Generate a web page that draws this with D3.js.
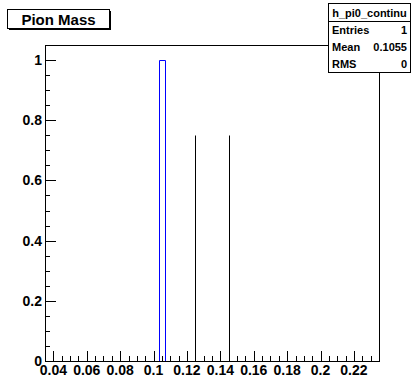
<!DOCTYPE html>
<html lang="en">
<head>
    <title>Pion Mass</title>
    <script src="https://d3js.org/d3.v7.min.js" charset="utf-8"></script>
    <style>
        body { margin: 0; background: #fff; }
        text { font-family: "Liberation Sans", Arial, sans-serif; font-weight: bold; fill: #000; }
    </style>
</head>
<body>
<script>
    // histogram settings and data
    var xDomain = [0.035, 0.235];
    var yDomain = [0, 1.05];
    var nBins = 50;
    var entries = [0.1055];          // filled values
    var cutX = [0.125, 0.145];       // vertical cut lines
    var cutHeight = 0.75;
    var xTickVals = [0.04, 0.06, 0.08, 0.1, 0.12, 0.14, 0.16, 0.18, 0.2, 0.22];
    var yTickVals = [0, 0.2, 0.4, 0.6, 0.8, 1];
    var statNames = ["Entries", "Mean", "RMS"];
    var statValues = ["1", "0.1055", "0"];
    var histName = "h_pi0_continu";
    var title = "Pion Mass";

    var w = 413, h = 378;
    var L = 45, R = 379, T = 45, B = 361;

    var svg = d3.select("body").append("svg")
        .attr("width", w)
        .attr("height", h);

    var x = d3.scaleLinear().domain(xDomain).range([L, R]);
    var y = d3.scaleLinear().domain(yDomain).range([B, T]);

    // bin the entries
    var step = (xDomain[1] - xDomain[0]) / nBins;
    var thresholds = d3.range(1, nBins).map(function(i) { return xDomain[0] + i * step; });
    var bins = d3.bin().domain(xDomain).thresholds(thresholds)(entries);

    // histogram outline as a step path
    var pts = [[xDomain[0], 0]];
    bins.forEach(function(b) {
        pts.push([b.x0, b.length]);
        pts.push([b.x1, b.length]);
    });
    pts.push([xDomain[1], 0]);
    var line = d3.line()
        .x(function(d) { return Math.round(x(d[0])) + 0.5; })
        .y(function(d) { return Math.round(y(d[1])) + 0.5; });
    svg.append("path")
        .attr("d", line(pts))
        .attr("fill", "none")
        .attr("stroke", "#0000ff")
        .attr("stroke-width", 1);

    // cut lines
    svg.selectAll(".cut").data(cutX).enter().append("line")
        .attr("x1", function(d) { return Math.round(x(d)) + 0.5; })
        .attr("x2", function(d) { return Math.round(x(d)) + 0.5; })
        .attr("y1", Math.round(y(cutHeight)) + 0.5)
        .attr("y2", B)
        .attr("stroke", "#000")
        .attr("stroke-width", 1);

    // frame
    svg.append("rect")
        .attr("x", L + 0.5).attr("y", T + 0.5)
        .attr("width", R - L).attr("height", B - T)
        .attr("fill", "none")
        .attr("stroke", "#000");

    // x axis ticks (major 0.02, minor 0.005)
    var xMinor = d3.range(0, 41).map(function(i) { return 0.035 + i * 0.005; })
        .filter(function(v) { return v <= xDomain[1] + 1e-9; });
    svg.selectAll(".xminor").data(xMinor).enter().append("line")
        .attr("x1", function(d) { return Math.round(x(d)) + 0.5; })
        .attr("x2", function(d) { return Math.round(x(d)) + 0.5; })
        .attr("y1", B).attr("y2", B - 5)
        .attr("stroke", "#000");
    svg.selectAll(".xmajor").data(xTickVals).enter().append("line")
        .attr("x1", function(d) { return Math.round(x(d)) + 0.5; })
        .attr("x2", function(d) { return Math.round(x(d)) + 0.5; })
        .attr("y1", B).attr("y2", B - 10)
        .attr("stroke", "#000");
    svg.selectAll(".xlab").data(xTickVals).enter().append("text")
        .attr("x", function(d) { return x(d); })
        .attr("y", 375)
        .attr("text-anchor", "middle")
        .attr("font-size", "14px")
        .text(function(d) { return String(+d.toFixed(2)); });

    // y axis ticks (major 0.2, minor 0.05)
    var yMinor = d3.range(0, 22).map(function(i) { return i * 0.05; });
    svg.selectAll(".yminor").data(yMinor).enter().append("line")
        .attr("x1", L).attr("x2", L + 5)
        .attr("y1", function(d) { return Math.round(y(d)) + 0.5; })
        .attr("y2", function(d) { return Math.round(y(d)) + 0.5; })
        .attr("stroke", "#000");
    svg.selectAll(".ymajor").data(yTickVals).enter().append("line")
        .attr("x1", L).attr("x2", L + 11)
        .attr("y1", function(d) { return Math.round(y(d)) + 0.5; })
        .attr("y2", function(d) { return Math.round(y(d)) + 0.5; })
        .attr("stroke", "#000");
    svg.selectAll(".ylab").data(yTickVals).enter().append("text")
        .attr("x", 42)
        .attr("y", function(d) { return y(d) + 5; })
        .attr("text-anchor", "end")
        .attr("font-size", "14px")
        .text(function(d) { return String(+d.toFixed(1)); });

    // title box with shadow
    svg.append("rect").attr("x", 9).attr("y", 11).attr("width", 102).attr("height", 19).attr("fill", "#000");
    svg.append("rect").attr("x", 7.5).attr("y", 9.5).attr("width", 102).attr("height", 19)
        .attr("fill", "#fff").attr("stroke", "#000");
    svg.append("text").attr("x", 58.5).attr("y", 24.5)
        .attr("text-anchor", "middle").attr("font-size", "15px").text(title);

    // stats box
    var sx = 328, sy = 3, sw = 82, rowH = 17;
    var sh = 18 + rowH * statNames.length;
    svg.append("rect").attr("x", sx + 1).attr("y", sy + 1).attr("width", sw).attr("height", sh).attr("fill", "#000");
    svg.append("rect").attr("x", sx + 0.5).attr("y", sy + 0.5).attr("width", sw).attr("height", sh)
        .attr("fill", "#fff").attr("stroke", "#000");
    svg.append("line").attr("x1", sx).attr("x2", sx + sw).attr("y1", sy + 18.5).attr("y2", sy + 18.5).attr("stroke", "#000");
    svg.append("text").attr("x", sx + sw / 2 + 0.5).attr("y", sy + 14)
        .attr("text-anchor", "middle").attr("font-size", "11px").text(histName);
    statNames.forEach(function(n, i) {
        var ty = sy + 18 + rowH * i + 13;
        svg.append("text").attr("x", sx + 4).attr("y", ty).attr("font-size", "11px").text(n);
        svg.append("text").attr("x", sx + sw - 3).attr("y", ty)
            .attr("text-anchor", "end").attr("font-size", "11px").text(statValues[i]);
    });
</script>
</body>
</html>
